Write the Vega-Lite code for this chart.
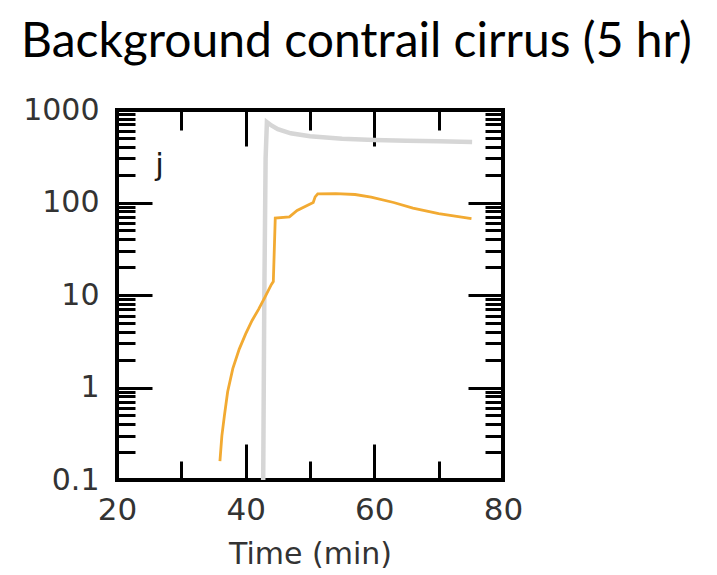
{
  "$schema": "https://vega.github.io/schema/vega-lite/v6.json",
  "width": 386,
  "height": 370,
  "autosize": {"type": "none"},
  "padding": {"left": 117, "top": 110, "right": 214, "bottom": 95},
  "title": {
    "text": "Background contrail cirrus (5 hr)",
    "anchor": "start",
    "frame": "group",
    "dx": -96,
    "dy": 57,
    "offset": 47,
    "baseline": "alphabetic",
    "font": "Lato",
    "fontSize": 48,
    "fontWeight": "normal",
    "color": "#000000"
  },
  "datasets": {
    "background": [
      {"t": 42.7, "v": 0.05},
      {"t": 42.9, "v": 10},
      {"t": 43.1, "v": 300},
      {"t": 43.3, "v": 740},
      {"t": 44.0, "v": 680},
      {"t": 45.0, "v": 620},
      {"t": 47.0, "v": 560},
      {"t": 50.0, "v": 520},
      {"t": 55.0, "v": 490},
      {"t": 60.0, "v": 475},
      {"t": 65.0, "v": 465},
      {"t": 70.0, "v": 458},
      {"t": 75.2, "v": 450}
    ],
    "contrail": [
      {"t": 36.0, "v": 0.16},
      {"t": 36.3, "v": 0.3},
      {"t": 36.7, "v": 0.5},
      {"t": 37.2, "v": 0.9},
      {"t": 38.0, "v": 1.6},
      {"t": 39.0, "v": 2.6},
      {"t": 40.0, "v": 3.8},
      {"t": 41.0, "v": 5.3},
      {"t": 42.0, "v": 7.0},
      {"t": 43.0, "v": 9.5},
      {"t": 44.0, "v": 13},
      {"t": 44.3, "v": 14},
      {"t": 44.6, "v": 68},
      {"t": 46.8, "v": 70},
      {"t": 48.0, "v": 82},
      {"t": 50.5, "v": 100},
      {"t": 50.8, "v": 115},
      {"t": 51.2, "v": 124},
      {"t": 54.0, "v": 125},
      {"t": 57.0, "v": 122},
      {"t": 59.5, "v": 114},
      {"t": 63.0, "v": 100},
      {"t": 66.0, "v": 87},
      {"t": 70.0, "v": 76},
      {"t": 75.1, "v": 67}
    ],
    "panel": [
      {"t": 26.6, "v": 200, "label": "j"}
    ]
  },
  "layer": [
    {
      "data": {"name": "background"},
      "mark": {"type": "line", "color": "#d6d6d6", "strokeWidth": 4.5, "clip": true},
      "encoding": {
        "x": {
          "field": "t",
          "type": "quantitative",
          "scale": {"domain": [20, 80], "nice": false, "zero": false},
          "axis": {
            "orient": "bottom",
            "values": [20, 40, 60, 80],
            "tickSize": -36,
            "labelPadding": 51,
            "labelFontSize": 31,
            "labelFlush": false,
            "labelOverlap": false,
            "title": "Time (min)",
            "titleFontSize": 30,
            "titlePadding": 14
          }
        },
        "y": {
          "field": "v",
          "type": "quantitative",
          "scale": {"type": "log", "domain": [0.1, 1000], "nice": false},
          "axis": {
            "orient": "left",
            "values": [0.1, 1, 10, 100, 1000],
            "format": "~g",
            "tickSize": -35,
            "labelPadding": 53,
            "labelFontSize": 30,
            "labelFlush": false,
            "labelOverlap": false,
            "title": null
          }
        }
      }
    },
    {
      "data": {"name": "contrail"},
      "mark": {"type": "line", "color": "#f2aa32", "strokeWidth": 2.8, "clip": true},
      "encoding": {
        "x": {
          "field": "t",
          "type": "quantitative",
          "axis": {
            "orient": "bottom",
            "values": [30, 50, 70],
            "tickSize": -19,
            "labels": false,
            "title": null
          }
        },
        "y": {
          "field": "v",
          "type": "quantitative",
          "axis": {
            "orient": "left",
            "values": [0.2, 0.3, 0.4, 0.5, 0.6, 0.7, 0.8, 0.9, 2, 3, 4, 5, 6, 7, 8, 9, 20, 30, 40, 50, 60, 70, 80, 90, 200, 300, 400, 500, 600, 700, 800, 900],
            "tickSize": -18,
            "labels": false,
            "title": null
          }
        }
      }
    },
    {
      "data": {"name": "panel"},
      "mark": {"type": "text", "font": "DejaVu Sans", "fontSize": 31, "baseline": "alphabetic", "align": "center", "color": "#1a1a1a"},
      "encoding": {
        "text": {"field": "label"},
        "x": {
          "field": "t",
          "type": "quantitative",
          "axis": {
            "orient": "top",
            "values": [30, 40, 50, 60, 70],
            "tickSize": {"condition": {"test": "datum.value === 40 || datum.value === 60", "value": -36}, "value": -20},
            "labels": false,
            "title": null
          }
        },
        "y": {
          "field": "v",
          "type": "quantitative",
          "axis": {
            "orient": "right",
            "values": [0.2, 0.3, 0.4, 0.5, 0.6, 0.7, 0.8, 0.9, 1, 2, 3, 4, 5, 6, 7, 8, 9, 10, 20, 30, 40, 50, 60, 70, 80, 90, 100, 200, 300, 400, 500, 600, 700, 800, 900],
            "tickSize": {"condition": {"test": "datum.value === 1 || datum.value === 10 || datum.value === 100", "value": -35}, "value": -18},
            "labels": false,
            "title": null
          }
        }
      }
    }
  ],
  "resolve": {"axis": {"x": "independent", "y": "independent"}},
  "config": {
    "view": {"stroke": "#000000", "strokeWidth": 4},
    "axis": {
      "domain": false,
      "grid": false,
      "tickColor": "#000000",
      "tickWidth": 3,
      "labelFont": "DejaVu Sans",
      "labelColor": "#333333",
      "titleFont": "DejaVu Sans",
      "titleColor": "#333333",
      "titleFontWeight": "normal"
    }
  }
}
